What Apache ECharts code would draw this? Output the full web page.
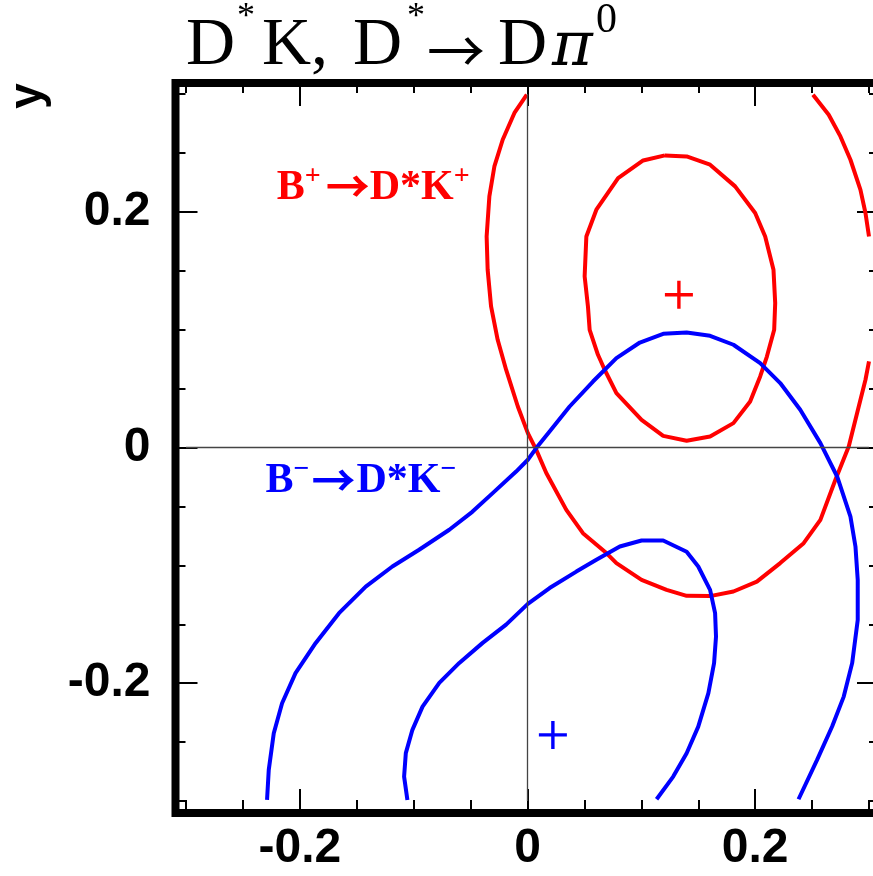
<!DOCTYPE html>
<html>
<head>
<meta charset="utf-8">
<script src="https://cdn.jsdelivr.net/npm/echarts@6/dist/echarts.min.js"></script>
<style>html,body{margin:0;padding:0;background:#fff;}#c{width:873px;height:876px;}</style>
</head>
<body>
<div id="c"></div>
<script>
// ---- data (x, y) ----
const redInner = [[0.1207,0.2479],[0.1398,0.2470],[0.1604,0.2400],[0.1824,0.2216],[0.2000,0.1990],[0.2088,0.1791],[0.2161,0.1508],[0.2176,0.1226],[0.2167,0.0999],[0.2103,0.0772],[0.2044,0.0603],[0.1956,0.0390],[0.1809,0.0207],[0.1604,0.0093],[0.1398,0.0057],[0.1192,0.0099],[0.1002,0.0235],[0.0781,0.0462],[0.0678,0.0660],[0.0619,0.0787],[0.0546,0.0999],[0.0531,0.1197],[0.0502,0.1452],[0.0517,0.1791],[0.0605,0.2018],[0.0796,0.2287],[0.1016,0.2436],[0.1207,0.2479]];
const redOuterRight = [[0.2508,0.2994],[0.2646,0.2824],[0.2749,0.2640],[0.2837,0.2442],[0.2925,0.2187],[0.2969,0.1990],[0.3000,0.1791]];
const redOuterMain = [[0.3000,0.0730],[0.2969,0.0575],[0.2910,0.0348],[0.2822,0.0008],[0.2705,-0.0274],[0.2573,-0.0614],[0.2426,-0.0812],[0.2220,-0.0981],[0.2015,-0.1138],[0.1809,-0.1222],[0.1604,-0.1261],[0.1398,-0.1259],[0.1222,-0.1208],[0.1002,-0.1123],[0.0781,-0.0981],[0.0693,-0.0896],[0.0487,-0.0727],[0.0341,-0.0529],[0.0165,-0.0217],[0.0077,-0.0020],[0.0003,0.0122],[-0.0085,0.0348],[-0.0188,0.0660],[-0.0262,0.0914],[-0.0320,0.1197],[-0.0350,0.1508],[-0.0359,0.1791],[-0.0335,0.2131],[-0.0291,0.2385],[-0.0218,0.2612],[-0.0115,0.2839],[-0.0006,0.2994]];
const blueOuter = [[-0.2288,-0.2991],[-0.2273,-0.2736],[-0.2229,-0.2425],[-0.2156,-0.2170],[-0.2038,-0.1915],[-0.1862,-0.1661],[-0.1656,-0.1406],[-0.1421,-0.1180],[-0.1187,-0.1010],[-0.0952,-0.0868],[-0.0687,-0.0698],[-0.0485,-0.0546],[-0.0306,-0.0387],[-0.0100,-0.0204],[0.0003,-0.0104],[0.0077,-0.0005],[0.0194,0.0136],[0.0370,0.0348],[0.0575,0.0560],[0.0781,0.0759],[0.0987,0.0891],[0.1192,0.0965],[0.1398,0.0976],[0.1604,0.0948],[0.1809,0.0872],[0.2044,0.0716],[0.2220,0.0547],[0.2396,0.0320],[0.2573,0.0037],[0.2720,-0.0246],[0.2837,-0.0586],[0.2881,-0.0840],[0.2901,-0.1123],[0.2901,-0.1463],[0.2852,-0.1830],[0.2778,-0.2114],[0.2676,-0.2368],[0.2544,-0.2651],[0.2381,-0.2985]];
const blueInner = [[-0.1055,-0.2991],[-0.1084,-0.2793],[-0.1069,-0.2594],[-0.1011,-0.2396],[-0.0922,-0.2199],[-0.0775,-0.1997],[-0.0599,-0.1828],[-0.0394,-0.1658],[-0.0188,-0.1503],[0.0003,-0.1327],[0.0194,-0.1193],[0.0429,-0.1053],[0.0605,-0.0953],[0.0811,-0.0840],[0.1002,-0.0789],[0.1192,-0.0789],[0.1398,-0.0885],[0.1500,-0.1010],[0.1604,-0.1208],[0.1648,-0.1406],[0.1656,-0.1605],[0.1639,-0.1830],[0.1589,-0.2085],[0.1500,-0.2369],[0.1398,-0.2595],[0.1280,-0.2793],[0.1134,-0.2985]];
const redBest = [[0.133, 0.1296]];
const blueBest = [[0.0223, -0.2439]];
const minorTicks = [-0.3,-0.25,-0.2,-0.15,-0.1,-0.05,0,0.05,0.1,0.15,0.2,0.25,0.3];
const majorTicks = [-0.2, 0, 0.2];
const tickLabels = [-0.2, 0, 0.2];
const redLabelAt = [[-0.2203, 0.2222]];
const blueLabelAt = [[-0.2302, -0.0266]];

const RED = '#ff0000', BLUE = '#0000ff';
const SERIF = '"Liberation Serif", "Times New Roman", serif';
const ARROWF = '"Noto Sans CJK SC", "Liberation Serif", serif';
const plusPath = 'path://M-1.7,-14H1.7V-1.7H14V1.7H1.7V14H-1.7V1.7H-14V-1.7H-1.7Z';

function ax(kind, pos, offset, vals, len, labelOpt) {
  return {
    type: 'value', gridIndex: 0, position: pos, offset: offset,
    min: -0.3, max: 0.3,
    axisLine: { show: false, onZero: false },
    splitLine: { show: false },
    axisTick: { show: true, inside: true, length: len, customValues: vals,
      lineStyle: { color: '#000', width: 2 } },
    axisLabel: labelOpt ? Object.assign({ show: true, customValues: tickLabels,
      color: '#000', fontFamily: '"Liberation Sans", Arial, sans-serif', fontWeight: 'bold', fontSize: 48,
      formatter: v => String(v) }, labelOpt) : { show: false }
  };
}

function labelRich(color, supW, arrowW) {
  return {
    b: { fontFamily: SERIF, fontWeight: 'bold', fontSize: 42, color: color, lineHeight: 46, verticalAlign: 'bottom' },
    a: { fontFamily: ARROWF, fontWeight: 'bold', fontSize: 44, color: color, lineHeight: 46, verticalAlign: 'bottom', width: arrowW },
    s: { fontFamily: SERIF, fontWeight: 'bold', fontSize: 28, color: color, lineHeight: 22, verticalAlign: 'top', width: supW },
    e: { fontFamily: SERIF, fontWeight: 'bold', fontSize: 28, color: color, lineHeight: 22, verticalAlign: 'top' }
  };
}

const chart = echarts.init(document.getElementById('c'), null, { renderer: 'canvas' });
chart.setOption({
  animation: false,
  backgroundColor: '#fff',
  title: {
    left: 186, top: 0, padding: 0,
    text: '{d1|D}{st1|*}{k|K,}{d2|D}{st2|*}{a|→}{d3|D}{p|π}{z|0}',
    textStyle: {
      fontWeight: 'normal',
      rich: {
        d1: { fontFamily: SERIF, fontSize: 68, color: '#000', lineHeight: 80, verticalAlign: 'bottom', width: 51 },
        st1: { fontFamily: SERIF, fontSize: 36, color: '#000', lineHeight: 14, verticalAlign: 'top', width: 25 },
        k: { fontFamily: SERIF, fontSize: 68, color: '#000', lineHeight: 80, verticalAlign: 'bottom', width: 91 },
        d2: { fontFamily: SERIF, fontSize: 68, color: '#000', lineHeight: 80, verticalAlign: 'bottom', width: 54 },
        st2: { fontFamily: SERIF, fontSize: 36, color: '#000', lineHeight: 14, verticalAlign: 'top', width: 20 },
        a: { fontFamily: ARROWF, fontSize: 58, color: '#000', lineHeight: 80, verticalAlign: 'bottom', width: 71 },
        d3: { fontFamily: SERIF, fontSize: 68, color: '#000', lineHeight: 80, verticalAlign: 'bottom', width: 54 },
        p: { fontFamily: '"DejaVu Serif", serif', fontStyle: 'italic', fontSize: 62, color: '#000', lineHeight: 80, verticalAlign: 'bottom', width: 44 },
        z: { fontFamily: SERIF, fontSize: 42, color: '#000', lineHeight: 50, verticalAlign: 'top' }
      }
    }
  },
  graphic: [{
    type: 'text', x: 28, y: 96, rotation: Math.PI / 2,
    style: { text: 'y', font: 'bold 46px "Liberation Sans", Arial, sans-serif', fill: '#000', align: 'center', verticalAlign: 'middle' }
  }],
  grid: [
    { left: 186, right: 4, top: 94, bottom: 75, containLabel: false, outerBoundsMode: 'none' },
    { left: 175.5, top: 83, width: 703.5, height: 730, show: true, borderColor: '#000', borderWidth: 8,
      backgroundColor: 'transparent', containLabel: false, outerBoundsMode: 'none', z: 5 }
  ],
  xAxis: [
    ax('x', 'bottom', 12, minorTicks, 13, null),
    ax('x', 'bottom', 12, majorTicks, 24, { margin: 12 }),
    ax('x', 'top', 11, minorTicks, 10, null),
    ax('x', 'top', 11, majorTicks, 23, null),
    { type: 'value', gridIndex: 1, show: false, min: 0, max: 1 }
  ],
  yAxis: [
    ax('y', 'left', 10.5, minorTicks, 10, null),
    ax('y', 'left', 10.5, majorTicks, 22, { margin: 25 }),
    ax('y', 'right', 10, minorTicks, 10, null),
    ax('y', 'right', 10, majorTicks, 22, null),
    { type: 'value', gridIndex: 1, show: false, min: 0, max: 1 }
  ],
  series: [
    { type: 'line', data: [], xAxisIndex: 0, yAxisIndex: 0, silent: true,
      markLine: { silent: true, symbol: ['none', 'none'], label: { show: false },
        lineStyle: { color: '#444', width: 1.3, type: 'solid' },
        data: [{ xAxis: 0 }, { yAxis: 0 }] } },
    { type: 'line', data: redInner, showSymbol: false, lineStyle: { color: RED, width: 4 }, itemStyle: { color: RED } },
    { type: 'line', data: redOuterRight, showSymbol: false, lineStyle: { color: RED, width: 4 }, itemStyle: { color: RED } },
    { type: 'line', data: redOuterMain, showSymbol: false, lineStyle: { color: RED, width: 4 }, itemStyle: { color: RED } },
    { type: 'line', data: blueOuter, showSymbol: false, lineStyle: { color: BLUE, width: 4 }, itemStyle: { color: BLUE } },
    { type: 'line', data: blueInner, showSymbol: false, lineStyle: { color: BLUE, width: 4 }, itemStyle: { color: BLUE } },
    { type: 'scatter', data: redBest, symbol: plusPath, symbolSize: 28, itemStyle: { color: RED, opacity: 1 } },
    { type: 'scatter', data: blueBest, symbol: plusPath, symbolSize: 28, itemStyle: { color: BLUE, opacity: 1 } },
    { type: 'scatter', data: redLabelAt, symbolSize: 0, silent: true, itemStyle: { opacity: 1 },
      label: { show: true, position: 'right', distance: 0, opacity: 1,
        formatter: '{b|B}{s|+}{a|→}{b|D*K}{e|+}', rich: labelRich(RED, 21, 44) } },
    { type: 'scatter', data: blueLabelAt, symbolSize: 0, silent: true, itemStyle: { opacity: 1 },
      label: { show: true, position: 'right', distance: 0, opacity: 1,
        formatter: '{b|B}{s|−}{a|→}{b|D*K}{e|−}', rich: labelRich(BLUE, 18, 45) } }
  ]
});
</script>
</body>
</html>
